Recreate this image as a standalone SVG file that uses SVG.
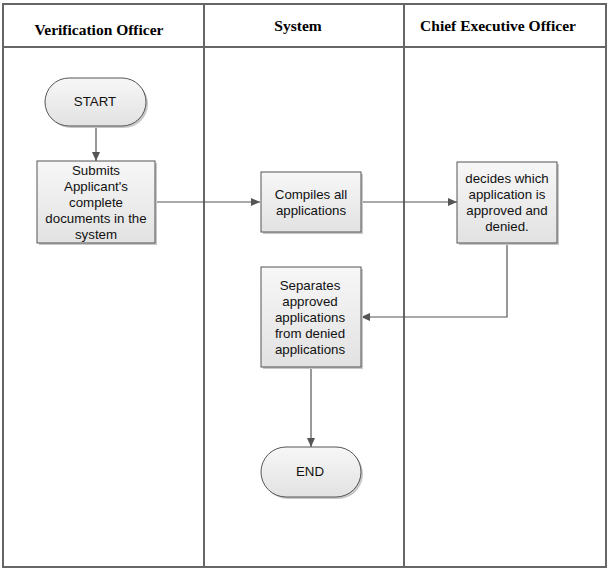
<svg xmlns="http://www.w3.org/2000/svg" width="611" height="573" viewBox="0 0 611 573">
<defs>
<linearGradient id="g" x1="0" y1="0" x2="0" y2="1">
<stop offset="0" stop-color="#f7f7f7"/>
<stop offset="1" stop-color="#e2e2e2"/>
</linearGradient>
<marker id="arr" markerWidth="10" markerHeight="8" refX="9" refY="4" orient="auto" markerUnits="userSpaceOnUse">
<path d="M0,0 L9,4 L0,8 z" fill="#555"/>
</marker>
</defs>
<style>
.lane{fill:none;stroke:#666;stroke-width:2}
.hdr{font-family:"Liberation Serif",serif;font-weight:bold;font-size:15.5px;fill:#000;text-anchor:middle}
.box{fill:url(#g);stroke:#555;stroke-width:1}
.shadow{fill:#c8c8c8}
.t{font-family:"Liberation Sans",Arial,sans-serif;font-size:13.3px;fill:#111;text-anchor:middle}
.c{fill:none;stroke:#555;stroke-width:1.2;marker-end:url(#arr)}
</style>
<rect width="611" height="573" fill="#fff"/>
<g id="lanes">
<rect class="lane" x="3" y="4" width="603" height="563"/>
<line class="lane" x1="3" y1="47" x2="606" y2="47"/>
<line class="lane" x1="204" y1="4" x2="204" y2="567"/>
<line class="lane" x1="404" y1="4" x2="404" y2="567"/>
<text class="hdr" x="99" y="35">Verification Officer</text>
<text class="hdr" x="298" y="31">System</text>
<text class="hdr" x="498" y="31">Chief Executive Officer</text>
</g>
<g id="connectors">
<path class="c" d="M96,127 L96,161"/>
<path class="c" d="M155,202 L260,202"/>
<path class="c" d="M361,202 L457,202"/>
<path class="c" d="M507,243 L507,317 L361,317"/>
<path class="c" d="M311,367 L311,447"/>
</g>
<g id="start">
<rect class="shadow" x="47" y="80" width="101" height="48" rx="24"/>
<rect class="box" x="45" y="78" width="101" height="48" rx="24"/>
<text class="t" x="95" y="106">START</text>
</g>
<g id="submits">
<rect class="shadow" x="39" y="163" width="118" height="82"/>
<rect class="box" x="37" y="161" width="118" height="82"/>
<text class="t" x="96" y="175">Submits</text>
<text class="t" x="96" y="191">Applicant's</text>
<text class="t" x="96" y="207">complete</text>
<text class="t" x="96" y="223">documents in the</text>
<text class="t" x="96" y="239">system</text>
</g>
<g id="compiles">
<rect class="shadow" x="263" y="174" width="100" height="60"/>
<rect class="box" x="261" y="172" width="100" height="60"/>
<text class="t" x="311" y="199">Compiles all</text>
<text class="t" x="311" y="215">applications</text>
</g>
<g id="decides">
<rect class="shadow" x="459" y="164" width="100" height="81"/>
<rect class="box" x="457" y="162" width="100" height="81"/>
<text class="t" x="507" y="183">decides which</text>
<text class="t" x="507" y="199">application is</text>
<text class="t" x="507" y="215">approved and</text>
<text class="t" x="507" y="231">denied.</text>
</g>
<g id="separates">
<rect class="shadow" x="263" y="269" width="100" height="100"/>
<rect class="box" x="261" y="267" width="100" height="100"/>
<text class="t" x="310" y="290">Separates</text>
<text class="t" x="310" y="306">approved</text>
<text class="t" x="310" y="322">applications</text>
<text class="t" x="310" y="338">from denied</text>
<text class="t" x="310" y="354">applications</text>
</g>
<g id="end">
<rect class="shadow" x="263" y="449" width="100" height="50" rx="25"/>
<rect class="box" x="261" y="447" width="100" height="50" rx="25"/>
<text class="t" x="310" y="476">END</text>
</g>
</svg>
